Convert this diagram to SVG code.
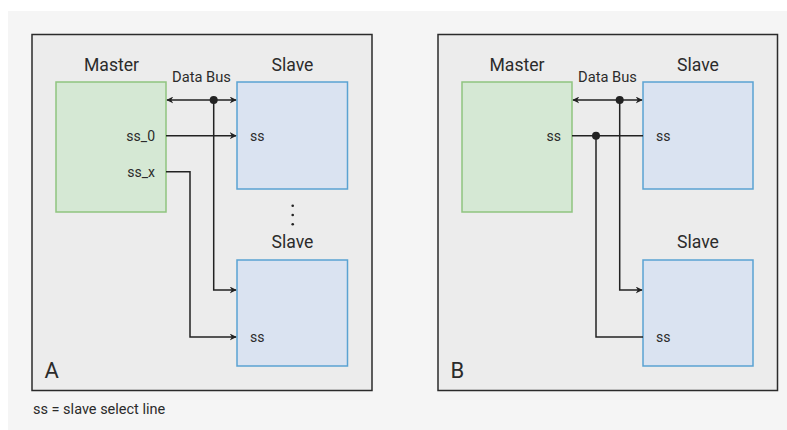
<svg xmlns="http://www.w3.org/2000/svg" width="787" height="430" viewBox="0 0 787 430">
<style>
.panel{fill:#ececec;stroke:#2b2b2b;stroke-width:1.5}
.master{fill:#d5e8d4;stroke:#8fc47f;stroke-width:1.5}
.slave{fill:#dae3f1;stroke:#5aa2d2;stroke-width:1.5}
.t{font-family:Roboto,"Liberation Sans",sans-serif;fill:#2b2b2b}
.lbl{font-size:17.6px;text-anchor:middle}
.bus{font-size:14.7px;text-anchor:middle}
.pin{font-size:14px}
.w{fill:none;stroke:#222;stroke-width:1.5}
</style>
<defs>
<marker id="arr" viewBox="0 0 10 10" refX="9" refY="5" markerWidth="7" markerHeight="7" markerUnits="userSpaceOnUse" orient="auto-start-reverse">
<path d="M0,0 L10,5 L0,10 L3,5 Z" fill="#222"/>
</marker>
</defs>
<rect x="0" y="0" width="787" height="430" fill="#ffffff"/>
<rect x="8" y="11" width="779" height="419" fill="#f5f5f5"/>
<g id="panelA">
<rect class="panel" x="32" y="34.5" width="340" height="356"/>
<text class="t" x="44.5" y="378" font-size="22">A</text>
</g>
<g id="panelB">
<rect class="panel" x="438" y="34.5" width="339.5" height="356"/>
<text class="t" x="450.5" y="378" font-size="22">B</text>
</g>
<g id="masterA">
<rect class="master" x="56" y="82" width="110" height="130"/>
<text class="t lbl" x="111.5" y="71">Master</text>
<text class="t pin" x="155" y="141" text-anchor="end">ss_0</text>
<text class="t pin" x="155" y="177" text-anchor="end">ss_x</text>
</g>
<g id="slaveA1">
<rect class="slave" x="237" y="82" width="110.5" height="107"/>
<text class="t lbl" x="292.5" y="71">Slave</text>
<text class="t pin" x="250" y="141">ss</text>
</g>
<g id="slaveA2">
<rect class="slave" x="237" y="260" width="110.5" height="106"/>
<text class="t lbl" x="292.5" y="248">Slave</text>
<text class="t pin" x="250" y="342">ss</text>
</g>
<g id="dotsA">
<circle cx="292.7" cy="205.7" r="1.3" fill="#222"/>
<circle cx="292.7" cy="215" r="1.3" fill="#222"/>
<circle cx="292.7" cy="224.3" r="1.3" fill="#222"/>
</g>
<g id="masterB">
<rect class="master" x="462" y="82" width="110" height="130"/>
<text class="t lbl" x="517" y="71">Master</text>
<text class="t pin" x="561" y="141" text-anchor="end">ss</text>
</g>
<g id="slaveB1">
<rect class="slave" x="643" y="82" width="110" height="107"/>
<text class="t lbl" x="698" y="71">Slave</text>
<text class="t pin" x="656" y="141">ss</text>
</g>
<g id="slaveB2">
<rect class="slave" x="643" y="260" width="110" height="106"/>
<text class="t lbl" x="698" y="248">Slave</text>
<text class="t pin" x="656" y="342">ss</text>
</g>
<g id="connectors">
<text class="t bus" x="201.5" y="82.3">Data Bus</text>
<path class="w" d="M167,100 L236,100" marker-start="url(#arr)" marker-end="url(#arr)"/>
<path class="w" d="M213.7,100 L213.7,290 L236,290" marker-end="url(#arr)"/>
<circle cx="213.7" cy="100" r="4" fill="#222"/>
<path class="w" d="M166,135.7 L236,135.7" marker-end="url(#arr)"/>
<path class="w" d="M166,171.7 L190,171.7 L190,337 L236,337" marker-end="url(#arr)"/>
<text class="t bus" x="607.5" y="82.3">Data Bus</text>
<path class="w" d="M573,100 L642,100" marker-start="url(#arr)" marker-end="url(#arr)"/>
<path class="w" d="M619.7,100 L619.7,290 L642,290" marker-end="url(#arr)"/>
<circle cx="619.7" cy="100" r="4" fill="#222"/>
<path class="w" d="M572,135.7 L643,135.7"/>
<path class="w" d="M596,135.7 L596,337 L643,337"/>
<circle cx="596" cy="135.7" r="4" fill="#222"/>
</g>
<text class="t" x="33" y="414" font-size="14.5">ss = slave select line</text>
</svg>
